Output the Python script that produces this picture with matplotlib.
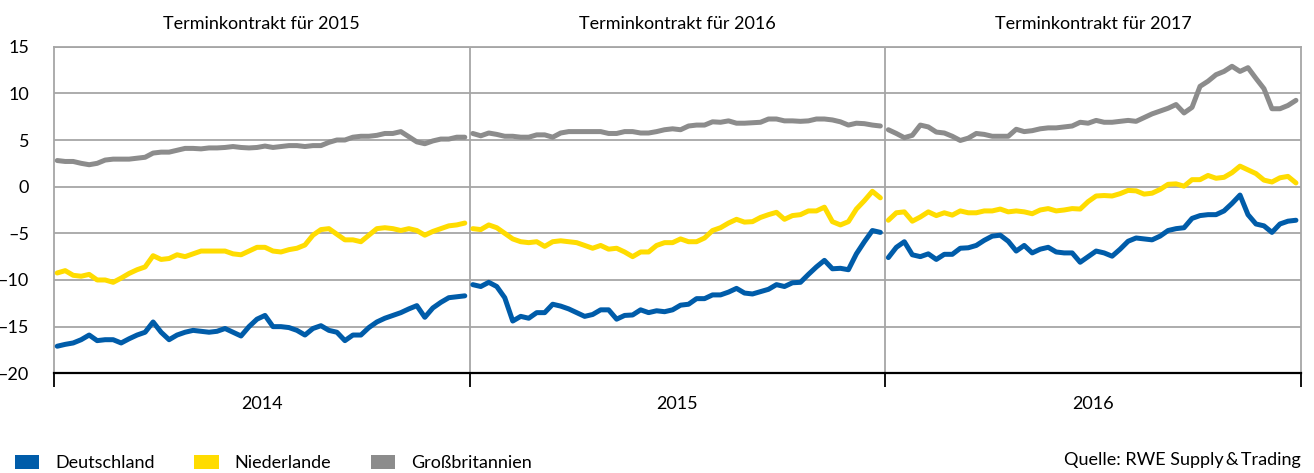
import numpy as np
import matplotlib
matplotlib.use("Agg")
import matplotlib.pyplot as plt
from matplotlib.patches import Patch

plt.rcParams['font.family'] = ['Lato', 'DejaVu Sans']

years = [2014, 2015, 2016]
contracts = ['Terminkontrakt für 2015', 'Terminkontrakt für 2016', 'Terminkontrakt für 2017']
weeks = np.arange(1, 53)

# Spread in EUR/MWh, weekly, one block per year
de_2014 = [-17.1, -16.9, -16.75, -16.4, -15.9, -16.5, -16.4, -16.4, -16.75, -16.3, -15.9, -15.6, -14.5,
           -15.6, -16.4, -15.9, -15.6, -15.4, -15.5, -15.6, -15.5, -15.2, -15.6, -16.0, -15.0, -14.2,
           -13.8, -15.0, -15.0, -15.1, -15.4, -15.9, -15.2, -14.9, -15.4, -15.6, -16.5, -15.9, -15.9,
           -15.1, -14.5, -14.1, -13.8, -13.5, -13.1, -12.75, -14.0, -13.0, -12.4, -11.9, -11.8, -11.7]
nl_2014 = [-9.25, -9.0, -9.5, -9.6, -9.4, -10.0, -10.0, -10.25, -9.8, -9.3, -8.9, -8.6, -7.4,
           -7.8, -7.7, -7.3, -7.5, -7.2, -6.9, -6.9, -6.9, -6.9, -7.2, -7.3, -6.9, -6.5,
           -6.5, -6.9, -7.0, -6.75, -6.6, -6.25, -5.2, -4.6, -4.5, -5.1, -5.7, -5.7, -5.9,
           -5.2, -4.5, -4.4, -4.5, -4.7, -4.5, -4.7, -5.2, -4.8, -4.5, -4.2, -4.1, -3.9]
gb_2014 = [2.8, 2.7, 2.7, 2.5, 2.35, 2.5, 2.85, 2.95, 2.95, 2.95, 3.05, 3.15, 3.6,
           3.7, 3.7, 3.9, 4.1, 4.1, 4.05, 4.15, 4.15, 4.2, 4.3, 4.2, 4.15, 4.2,
           4.35, 4.2, 4.3, 4.4, 4.4, 4.3, 4.4, 4.4, 4.75, 5.0, 5.0, 5.3, 5.4,
           5.4, 5.5, 5.7, 5.7, 5.9, 5.35, 4.8, 4.6, 4.9, 5.1, 5.1, 5.3, 5.3]

de_2015 = [-10.5, -10.7, -10.25, -10.7, -11.9, -14.4, -13.9, -14.1, -13.5, -13.5, -12.6, -12.8, -13.1,
           -13.5, -13.9, -13.7, -13.2, -13.2, -14.2, -13.8, -13.75, -13.2, -13.5, -13.3, -13.4, -13.2,
           -12.7, -12.6, -12.0, -12.0, -11.6, -11.6, -11.3, -10.9, -11.4, -11.5, -11.25, -11.0, -10.5,
           -10.7, -10.3, -10.25, -9.4, -8.6, -7.9, -8.8, -8.75, -8.9, -7.2, -5.9, -4.7, -4.9]
nl_2015 = [-4.5, -4.6, -4.1, -4.4, -5.0, -5.6, -5.9, -6.0, -5.9, -6.4, -5.9, -5.8, -5.9,
           -6.0, -6.3, -6.6, -6.3, -6.7, -6.6, -7.0, -7.5, -7.0, -7.0, -6.3, -6.0, -6.0,
           -5.6, -5.9, -5.9, -5.5, -4.7, -4.4, -3.9, -3.5, -3.8, -3.75, -3.3, -3.0, -2.75,
           -3.5, -3.1, -3.0, -2.6, -2.6, -2.2, -3.75, -4.1, -3.75, -2.4, -1.5, -0.5, -1.2]
gb_2015 = [5.7, 5.45, 5.75, 5.6, 5.4, 5.4, 5.3, 5.3, 5.55, 5.55, 5.3, 5.75, 5.9,
           5.9, 5.9, 5.9, 5.9, 5.7, 5.7, 5.9, 5.9, 5.75, 5.75, 5.9, 6.1, 6.2,
           6.1, 6.5, 6.6, 6.6, 6.95, 6.9, 7.05, 6.8, 6.8, 6.85, 6.9, 7.25, 7.25,
           7.05, 7.05, 7.0, 7.05, 7.25, 7.25, 7.15, 6.95, 6.6, 6.8, 6.75, 6.6, 6.5]

de_2016 = [-7.6, -6.5, -5.9, -7.3, -7.5, -7.2, -7.8, -7.25, -7.25, -6.6, -6.55, -6.3, -5.75,
           -5.3, -5.2, -5.85, -6.9, -6.3, -7.1, -6.7, -6.5, -7.0, -7.1, -7.1, -8.1, -7.5,
           -6.9, -7.1, -7.45, -6.7, -5.85, -5.5, -5.6, -5.7, -5.3, -4.7, -4.5, -4.4, -3.4,
           -3.1, -3.0, -3.0, -2.6, -1.8, -0.9, -3.0, -4.0, -4.2, -4.9, -4.0, -3.7, -3.6]
nl_2016 = [-3.6, -2.8, -2.7, -3.7, -3.25, -2.7, -3.1, -2.8, -3.05, -2.6, -2.8, -2.8, -2.6,
           -2.6, -2.4, -2.7, -2.6, -2.7, -2.9, -2.5, -2.35, -2.6, -2.5, -2.35, -2.4, -1.6,
           -1.0, -0.95, -1.0, -0.75, -0.4, -0.45, -0.8, -0.7, -0.3, 0.25, 0.3, 0.05, 0.75,
           0.75, 1.2, 0.9, 1.0, 1.5, 2.2, 1.8, 1.4, 0.7, 0.5, 0.95, 1.1, 0.4]
gb_2016 = [6.1, 5.7, 5.25, 5.5, 6.6, 6.4, 5.85, 5.75, 5.4, 4.95, 5.2, 5.7, 5.6,
           5.4, 5.4, 5.4, 6.15, 5.9, 6.0, 6.2, 6.3, 6.3, 6.4, 6.5, 6.9, 6.8,
           7.1, 6.9, 6.9, 7.0, 7.1, 7.0, 7.4, 7.8, 8.1, 8.4, 8.8, 7.9, 8.5,
           10.75, 11.3, 12.0, 12.35, 12.9, 12.35, 12.75, 11.6, 10.5, 8.35, 8.35, 8.7, 9.25]

series = [
    ('Deutschland', '#005ca9', [de_2014, de_2015, de_2016]),
    ('Niederlande', '#ffdc00', [nl_2014, nl_2015, nl_2016]),
    ('Großbritannien', '#8c8c8c', [gb_2014, gb_2015, gb_2016]),
]

fig = plt.figure(figsize=(13.14, 4.73), dpi=100)
ax = fig.add_axes([0.0411, 0.2108, 0.9488, 0.6905])

for name, col, blocks in series:
    for yr, vals in zip(years, blocks):
        ax.plot(yr + (weeks - 0.6) / 52, vals, color=col, lw=3.6,
                solid_capstyle='round', solid_joinstyle='round', zorder=3)

ax.set_xlim(2014, 2017)
ax.set_ylim(-20, 15)
ax.set_yticks(range(-20, 16, 5))
ax.set_yticklabels([str(v).replace('-', '\u2013') for v in range(-20, 16, 5)])
ax.tick_params(axis='y', length=0, pad=18, labelsize=13)
ax.yaxis.grid(True, color='#a6a6a6', lw=1.3)
ax.set_xticks([2014, 2015, 2016, 2017])
ax.set_xticklabels([])
ax.tick_params(axis='x', length=10, width=1.3, color='black', direction='out')
for x in [2015, 2016]:
    ax.axvline(x, color='#a6a6a6', lw=1.3, zorder=1)
for s in ['left', 'right', 'top']:
    ax.spines[s].set_color('#a6a6a6')
    ax.spines[s].set_linewidth(1.3)
ax.spines['bottom'].set_color('black')
ax.spines['bottom'].set_linewidth(1.6)
ax.set_axisbelow(True)

for yr, title in zip(years, contracts):
    ax.text(yr + 0.5, 1.045, title, transform=ax.get_xaxis_transform(),
            ha='center', va='bottom', fontsize=13)
    ax.text(yr + 0.5, -0.07, str(yr), transform=ax.get_xaxis_transform(),
            ha='center', va='top', fontsize=13)

handles = [Patch(facecolor=col, edgecolor='none', label=name) for name, col, _ in series]
fig.legend(handles=handles, loc='lower left', bbox_to_anchor=(15 / 1314, 0.004), ncol=3,
           frameon=False, fontsize=13, handlelength=1.33, handleheight=0.8,
           handletextpad=0.9, columnspacing=2.2, borderpad=0, borderaxespad=0)
fig.text(0.9899, 0.0275, 'Quelle: RWE Supply\u2009&\u2009Trading', ha='right', va='center', fontsize=13)

fig.savefig('out.png', dpi=100)
